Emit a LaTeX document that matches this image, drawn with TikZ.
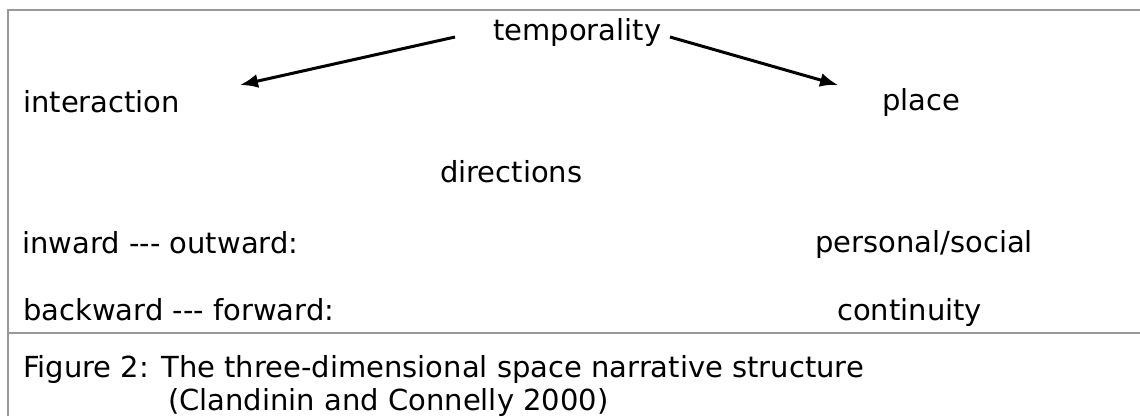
\documentclass[tikz,border=0pt]{standalone}
\usepackage{fontspec}
\setmainfont{DejaVu Sans}
\usetikzlibrary{arrows.meta}

\begin{document}
\begin{tikzpicture}[x = 1pt, y = -1pt,
  lbl/.style = {anchor = base west, inner sep = 0pt, font = \fontsize{29}{34}\selectfont},
  rule/.style = {line width = 2.8pt, black!40},
  pointer/.style = {line width = 3pt, -{Latex[length = 18pt, width = 14pt]}}]
\useasboundingbox (0,0) rectangle (1140,416);

\draw[rule] (8,416) -- (8,10) -- (1140,10);
\draw[rule] (8,333) -- (1140,333);

\node[lbl] (temp) at (493,40) {temporality};
\node[lbl] (inter) at (23,112) {interaction};
\node[lbl] (place) at (882,110) {place};
\node[lbl] (dir) at (440,182) {directions};
\node[lbl] (inout) at (22,253) {inward {-}{-}{-} outward:};
\node[lbl] (perso) at (815,252) {personal/social};
\node[lbl] (backfor) at (23,320) {backward {-}{-}{-} forward:};
\node[lbl] (contin) at (837,320) {continuity};

\node[lbl] (capA) at (23,377) {Figure 2: The three-dimensional space narrative structure};
\node[lbl] (capB) at (168,410) {(Clandinin and Connelly 2000)};

\coordinate (tempL) at (455,37);
\coordinate (tempR) at (670,37);
\coordinate (interTip) at (240,85);
\coordinate (placeTip) at (838,85);

\draw[pointer] (tempL) -- (interTip);
\draw[pointer] (tempR) -- (placeTip);
\end{tikzpicture}
\end{document}
